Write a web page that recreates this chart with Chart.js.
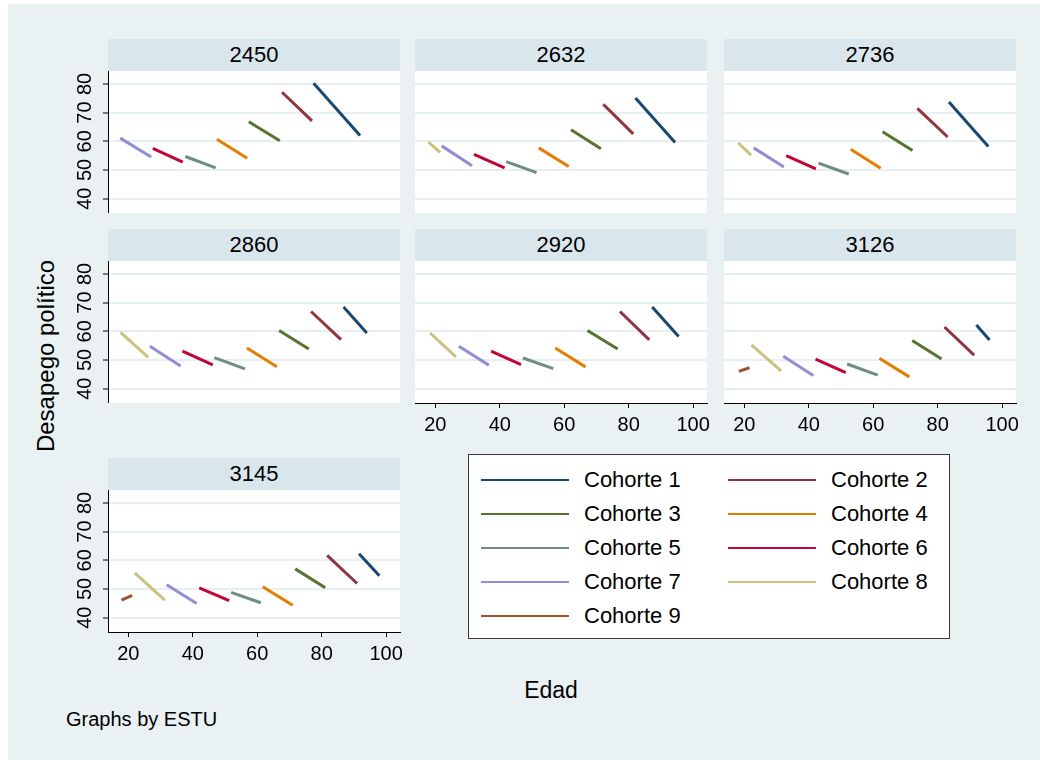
<!DOCTYPE html>
<html>
<head>
<meta charset="utf-8">
<script src="https://cdn.jsdelivr.net/npm/chart.js@4.4.1/dist/chart.umd.min.js"></script>
<style>
  body { margin: 0; width: 1040px; height: 760px; background: #fff; position: relative; overflow: hidden;
         font-family: "Liberation Sans", Arial, sans-serif; color: #000; }
  #fondo { position: absolute; left: 8px; top: 4px; right: 0; bottom: 0; background: #eaf1f3; }
  .cabecera { position: absolute; height: 32px; line-height: 32px; background: #d9e6eb; text-align: center; font-size: 22px; }
  .texto { position: absolute; white-space: nowrap; transform: translate(-50%, -50%); }
  #leyenda { position: absolute; left: 468px; top: 454px; width: 480px; height: 183px; background: #fff; border: 1px solid #3a3a3a; }
  .muestra { position: absolute; width: 88px; height: 2px; }
  .etiqueta { position: absolute; font-size: 22px; line-height: 24px; white-space: nowrap; }
</style>
</head>
<body>
<div id="fondo"></div>
<div class="texto" style="left:46px; top:356px; font-size:24px; transform: translate(-50%, -50%) rotate(-90deg);">Desapego político</div>
<div class="texto" style="left:551px; top:690px; font-size:23px;">Edad</div>
<div class="texto" style="left:66px; top:719px; font-size:20px; transform: translate(0, -50%);">Graphs by ESTU</div>
<div id="leyenda"></div>
<script>
// panels and series
const paneles = ['2450', '2632', '2736', '2860', '2920', '3126', '3145'];
const cohortes = ['Cohorte 1', 'Cohorte 2', 'Cohorte 3', 'Cohorte 4', 'Cohorte 5',
                  'Cohorte 6', 'Cohorte 7', 'Cohorte 8', 'Cohorte 9'];
const colores = ['#1a476f', '#90353b', '#55752f', '#e37e00', '#6e8e84',
                 '#c10534', '#938dd2', '#cac27e', '#a0522d'];
const ticksEdad = [20, 40, 60, 80, 100];
const ticksDesapego = [40, 50, 60, 70, 80];

// [edad inicial, edad final] y [valor inicial, valor final] per cohort (null = not in panel)
const edad2450 = [[77.5, 91.9], [67.7, 77.0], [57.4, 67.0], [47.5, 56.9], [37.7, 47.1], [27.6, 36.9], [17.5, 27.1], null, null];
const valor2450 = [[80.2, 62.0], [77.1, 67.1], [66.8, 60.2], [60.7, 54.1], [54.7, 50.7], [57.5, 52.7], [61.1, 54.5], null, null];

const edad2632 = [[82.1, 94.4], [72.1, 81.4], [62.1, 71.4], [52.1, 61.4], [42.0, 51.4], [32.0, 41.5], [22.0, 31.4], [17.9, 21.5], null];
const valor2632 = [[75.1, 59.6], [72.9, 62.6], [64.0, 57.4], [57.7, 51.2], [52.9, 49.1], [55.4, 50.7], [58.4, 51.5], [59.7, 56.1], null];

const edad2736 = [[83.5, 95.7], [73.7, 83.1], [62.9, 72.2], [53.0, 62.3], [43.0, 52.4], [33.0, 42.2], [22.9, 32.3], [18.1, 22.1], null];
const valor2736 = [[73.7, 58.2], [71.5, 61.5], [63.3, 56.8], [57.2, 50.6], [52.4, 48.6], [55.0, 50.4], [57.7, 51.0], [59.5, 55.2], null];

const edad2860 = [[86.8, 94.0], [76.7, 86.0], [66.8, 76.0], [56.8, 66.1], [46.7, 56.2], [36.8, 46.2], [26.7, 36.2], [17.6, 26.2], null];
const valor2860 = [[68.5, 59.4], [66.9, 57.1], [60.3, 53.8], [54.2, 47.6], [50.8, 46.9], [53.1, 48.3], [54.8, 47.9], [59.6, 50.9], null];

const edad2920 = [[87.3, 95.5], [77.3, 86.4], [67.2, 76.6], [57.2, 66.6], [47.2, 56.6], [37.3, 46.6], [27.3, 36.6], [18.4, 26.4], null];
const valor2920 = [[68.5, 58.2], [66.9, 57.0], [60.3, 53.8], [54.2, 47.6], [50.7, 47.0], [53.1, 48.4], [54.8, 48.2], [59.4, 51.1], null];

const edad3126 = [[92.0, 96.1], [82.1, 91.3], [72.1, 81.2], [61.9, 71.2], [51.9, 61.4], [42.1, 51.5], [32.1, 41.4], [22.2, 31.4], [18.3, 21.6]];
const valor3126 = [[62.2, 57.0], [61.5, 51.7], [56.8, 50.3], [50.6, 44.1], [48.6, 44.7], [50.3, 45.6], [51.3, 44.6], [55.3, 46.2], [46.0, 47.3]];

const edad3145 = [[91.6, 97.9], [81.7, 91.0], [71.8, 81.1], [61.7, 71.0], [51.9, 61.1], [42.0, 51.3], [31.9, 41.2], [22.0, 31.3], [17.9, 21.2]];
const valor3145 = [[62.3, 54.6], [61.7, 51.9], [57.0, 50.4], [50.8, 44.3], [48.8, 45.2], [50.4, 45.9], [51.5, 44.9], [55.6, 46.1], [46.1, 47.8]];

const edadPaneles = [edad2450, edad2632, edad2736, edad2860, edad2920, edad3126, edad3145];
const valorPaneles = [valor2450, valor2632, valor2736, valor2860, valor2920, valor3126, valor3145];

// layout
const colX = [108, 415, 724];
const filaY = [71, 261, 490];
const anchoPlot = 292, altoPlot = 142;

Chart.defaults.font.family = '"Liberation Sans", Arial, sans-serif';
Chart.defaults.color = '#000';

const fondoBlanco = {
  id: 'fondoBlanco',
  beforeDraw(chart) {
    const { ctx, chartArea: a } = chart;
    ctx.save();
    ctx.fillStyle = '#fff';
    ctx.fillRect(a.left, a.top, a.right - a.left, a.bottom - a.top);
    ctx.restore();
  }
};

// rotated y labels, like Stata
const etiquetasY = {
  id: 'etiquetasY',
  afterDraw(chart, args, opts) {
    if (!opts.mostrar) return;
    const { ctx, chartArea, scales } = chart;
    ctx.save();
    ctx.font = '20px "Liberation Sans", Arial, sans-serif';
    ctx.fillStyle = '#000';
    ctx.textAlign = 'center';
    ctx.textBaseline = 'alphabetic';
    ticksDesapego.forEach(v => {
      ctx.save();
      ctx.translate(chartArea.left - 17, scales.y.getPixelForValue(v));
      ctx.rotate(-Math.PI / 2);
      ctx.fillText(String(v), 0, 0);
      ctx.restore();
    });
    ctx.restore();
  }
};

paneles.forEach((nombre, i) => {
  const col = i % 3, fila = Math.floor(i / 3);
  const conY = col === 0;
  const conX = i >= 4;
  const izq = colX[col], arriba = filaY[fila];

  const cab = document.createElement('div');
  cab.className = 'cabecera';
  cab.style.left = izq + 'px';
  cab.style.top = (arriba - 32) + 'px';
  cab.style.width = anchoPlot + 'px';
  cab.textContent = nombre;
  document.body.appendChild(cab);

  const anchoEjeY = conY ? 60 : 0, altoEjeX = conX ? 40 : 0, margenDer = 20;
  const canvas = document.createElement('canvas');
  canvas.width = anchoEjeY + anchoPlot + margenDer;
  canvas.height = altoPlot + altoEjeX;
  canvas.style.position = 'absolute';
  canvas.style.left = (izq - anchoEjeY) + 'px';
  canvas.style.top = arriba + 'px';
  document.body.appendChild(canvas);

  const edades = edadPaneles[i], valores = valorPaneles[i];
  const datasets = [];
  cohortes.forEach((c, k) => {
    if (!edades[k]) return;
    datasets.push({
      label: c,
      data: [{ x: edades[k][0], y: valores[k][0] }, { x: edades[k][1], y: valores[k][1] }],
      borderColor: colores[k],
      borderWidth: 3,
      pointRadius: 0,
      fill: false
    });
  });

  new Chart(canvas, {
    type: 'line',
    data: { datasets },
    options: {
      responsive: false,
      animation: false,
      events: [],
      layout: { padding: { left: 0, top: 0, bottom: 0, right: margenDer } },
      plugins: { legend: { display: false }, tooltip: { enabled: false }, etiquetasY: { mostrar: conY } },
      scales: {
        x: {
          type: 'linear', min: 13.7, max: 104.3, display: conX,
          afterBuildTicks: s => { s.ticks = ticksEdad.map(v => ({ value: v })); },
          afterFit: conX ? (s => { s.height = altoEjeX; }) : undefined,
          ticks: { font: { size: 20 }, color: '#000', maxRotation: 0, autoSkip: false, padding: 5 },
          grid: { drawOnChartArea: false, drawTicks: true, tickLength: 5, tickColor: '#000', tickWidth: 1 },
          border: { display: true, color: '#000', width: 1 }
        },
        y: {
          type: 'linear', min: 35, max: 84.5,
          afterBuildTicks: s => { s.ticks = ticksDesapego.map(v => ({ value: v })); },
          afterFit: s => { s.width = anchoEjeY; },
          ticks: { display: false },
          grid: { color: '#e8eff2', lineWidth: 2, drawTicks: conY, tickLength: 5, tickColor: '#000', tickWidth: 1 },
          border: { display: conY, color: '#000', width: 1 }
        }
      }
    },
    plugins: [fondoBlanco, etiquetasY]
  });
});

// legend
const leyenda = document.getElementById('leyenda');
cohortes.forEach((c, k) => {
  const col = k % 2, fila = Math.floor(k / 2);
  const yc = 25 + 34 * fila;
  const linea = document.createElement('div');
  linea.className = 'muestra';
  linea.style.left = (col ? 259 : 12) + 'px';
  linea.style.top = (yc - 1) + 'px';
  linea.style.background = colores[k];
  leyenda.appendChild(linea);
  const txt = document.createElement('div');
  txt.className = 'etiqueta';
  txt.style.left = (col ? 362 : 115) + 'px';
  txt.style.top = (yc - 12) + 'px';
  txt.textContent = c;
  leyenda.appendChild(txt);
});
</script>
</body>
</html>
